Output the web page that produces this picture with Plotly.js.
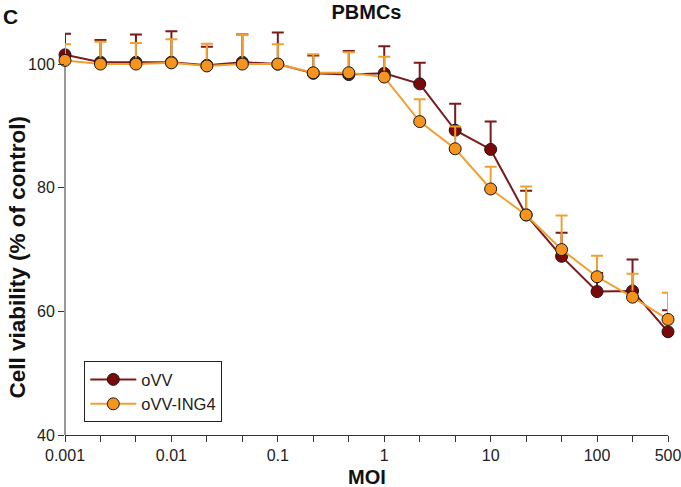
<!DOCTYPE html>
<html>
<head>
<meta charset="utf-8">
<script src="https://cdn.plot.ly/plotly-3.0.1.min.js"></script>
<style>html,body{margin:0;padding:0;background:#fff;}#chart{width:681px;height:487px;}</style>
</head>
<body>
<div id="chart"></div>
<script>
// MOI categories (equally spaced on the axis)
var moi = ['0.001','0.002','0.005','0.01','0.02','0.05','0.1','0.2','0.5','1','2','5','10','20','50','100','200','500'];
var tickLabels = ['0.001','','','0.01','','','0.1','','','1','','','10','','','100','','500'];
var yTicks = [40, 60, 80, 100];

// Cell viability (% of control), mean values
var oVV      = [101.5,100.3,100.3,100.3,99.8,100.3,100.0,98.5,98.3,98.5,96.8,89.3,86.2,75.6,68.9,63.2,63.3,56.7];
var oVV_ING4 = [100.6,100.0,100.0,100.2,99.7,100.0,100.0,98.6,98.6,97.9,90.7,86.3,79.8,75.6,70.0,65.6,62.3,58.7];

// Upper error bar lengths (SD)
var oVV_err      = [3.4,3.6,4.5,5.0,3.0,4.5,5.1,2.9,3.8,4.4,3.4,4.3,4.5,3.9,3.8,3.0,5.1,3.5];
var oVV_ING4_err = [2.6,3.6,3.4,3.8,3.6,4.7,3.2,3.0,3.3,3.3,3.6,3.6,3.6,4.6,5.5,3.4,3.8,4.3];

var zeros = moi.map(function(){return 0;});

var traces = [
  {
    x: moi, y: oVV, name: 'oVV', type: 'scatter', mode: 'lines+markers',
    cliponaxis: false,
    line: {color: '#7a1a1a', width: 2},
    marker: {color: '#7a0a0a', size: 12, line: {color: '#1a1a1a', width: 1}},
    error_y: {type: 'data', symmetric: false, array: oVV_err, arrayminus: zeros,
              color: '#7a1a1a', thickness: 2, width: 6}
  },
  {
    x: moi, y: oVV_ING4, name: 'oVV-ING4', type: 'scatter', mode: 'lines+markers',
    cliponaxis: false,
    line: {color: '#f0a030', width: 2},
    marker: {color: '#f7941d', size: 12, line: {color: '#1a1a1a', width: 1}},
    error_y: {type: 'data', symmetric: false, array: oVV_ING4_err, arrayminus: zeros,
              color: '#f0a030', thickness: 2, width: 6}
  }
];

var layout = {
  width: 681, height: 487,
  margin: {l: 65, r: 13, t: 27, b: 52},
  paper_bgcolor: '#fff', plot_bgcolor: '#fff',
  font: {family: 'Liberation Sans, Arial, sans-serif', color: '#222', size: 16},
  title: {text: '<b>PBMCs</b>', x: 0.5, xref: 'paper', xanchor: 'center',
          y: 0.976, yref: 'container', yanchor: 'middle',
          font: {size: 20, color: '#111'}},
  showlegend: true,
  legend: {x: 0.032, y: 0.181, xanchor: 'left', yanchor: 'top',
           bordercolor: '#222', borderwidth: 1, bgcolor: '#fff', itemwidth: 46,
           font: {size: 16.5, color: '#222'}},
  xaxis: {
    type: 'category', range: [0, 17],
    tickmode: 'array', tickvals: moi, ticktext: tickLabels,
    ticks: 'outside', ticklen: 6, tickcolor: '#333', tickwidth: 1,
    showline: true, linecolor: '#333', linewidth: 1,
    showgrid: false, zeroline: false,
    tickfont: {size: 16, color: '#222'}
  },
  yaxis: {
    range: [40, 106], tickmode: 'array', tickvals: yTicks,
    ticks: 'outside', ticklen: 6, tickcolor: '#333', tickwidth: 1,
    showline: false,
    showgrid: false, zeroline: false,
    tickfont: {size: 16, color: '#222'}
  },
  shapes: [
    {type: 'line', layer: 'below', xref: 'paper', x0: 0, x1: 0, yref: 'y', y0: 40, y1: 101,
     line: {color: '#333', width: 1}}
  ],
  annotations: [
    {text: '<b>C</b>', xref: 'paper', yref: 'paper', x: -0.106, y: 1.06,
     xanchor: 'left', yanchor: 'top', showarrow: false, font: {size: 21, color: '#111'}},
    {text: '<b>MOI</b>', xref: 'paper', yref: 'paper', x: 0.5, y: -0.104,
     xanchor: 'center', yanchor: 'middle', showarrow: false, font: {size: 20, color: '#111'}},
    {text: '<b>Cell viability (% of control)</b>', xref: 'paper', yref: 'paper',
     x: -0.079, y: 0.436, xanchor: 'center', yanchor: 'middle', textangle: -90,
     showarrow: false, font: {size: 22.5, color: '#111'}}
  ]
};

Plotly.newPlot('chart', traces, layout, {displayModeBar: false, staticPlot: true});
</script>
</body>
</html>
